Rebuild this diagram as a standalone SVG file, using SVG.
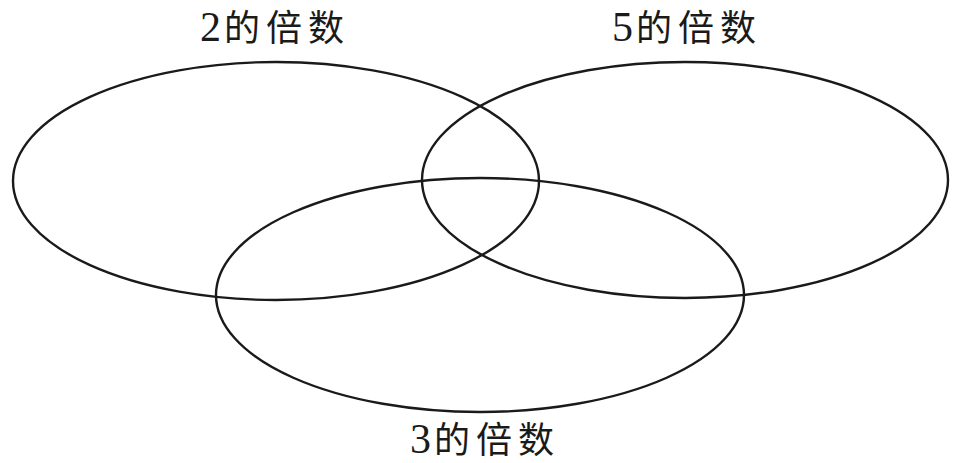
<svg xmlns="http://www.w3.org/2000/svg" width="964" height="463" viewBox="0 0 964 463">
<style>
.set{fill:none;stroke:#1a1a1a;stroke-width:2.4}
.lbl{font-family:"Liberation Serif","Noto Sans CJK SC",serif;font-size:36px;fill:#1a1a1a;letter-spacing:6px}
.num{font-size:42px;letter-spacing:3px}
</style>
<rect width="964" height="463" fill="#fff"/>
<g id="set2"><ellipse class="set" cx="276" cy="181" rx="263" ry="119"/><text class="lbl" x="200" y="41"><tspan class="num">2</tspan>的倍数</text></g>
<g id="set5"><ellipse class="set" cx="685" cy="180" rx="263" ry="118"/><text class="lbl" x="612" y="41"><tspan class="num">5</tspan>的倍数</text></g>
<g id="set3"><ellipse class="set" cx="480" cy="295" rx="264" ry="117"/><text class="lbl" x="410" y="453"><tspan class="num">3</tspan>的倍数</text></g>
<g id="connectors"/>
</svg>
